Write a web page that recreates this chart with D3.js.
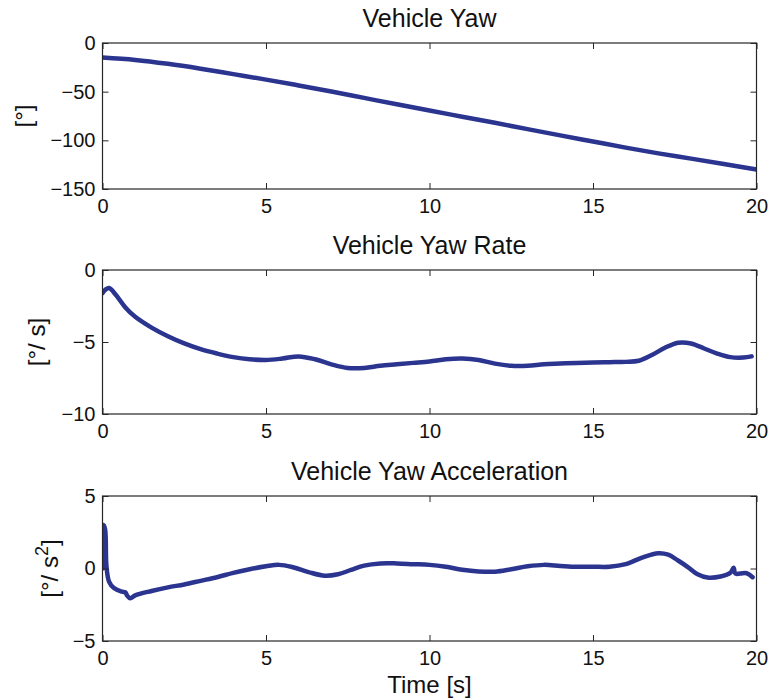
<!DOCTYPE html>
<html>
<head>
<meta charset="utf-8">
<script src="https://cdn.jsdelivr.net/npm/d3@7"></script>
<style>
  html, body { margin: 0; padding: 0; background: #fff; }
  svg { display: block; font-family: "Liberation Sans", Arial, Helvetica, sans-serif; }
</style>
</head>
<body>
<svg id="chart" width="770" height="700"></svg>
<script>
// Time axis (seconds)
const xTicks = [0, 5, 10, 15, 20];

// Vehicle yaw [deg]
const yawTime  = [0, 1, 2, 3, 4, 5, 6, 7, 8, 9, 10, 11, 12, 13, 14, 15, 16, 17, 18, 19, 20];
const yawValue = [-15, -17.4, -21.4, -26.4, -32, -37.6, -43.6, -49.8, -56.4, -63, -69.4, -75.7,
                  -82, -88.5, -94.9, -101.2, -107.5, -113.4, -118.8, -124.3, -130];
const yawTicks = [0, -50, -100, -150];

// Vehicle yaw rate [deg/s]
const rateTime  = [0.0, 0.1, 0.2, 0.4, 0.7, 1.0, 1.5, 2.0, 2.5, 3.0, 3.5, 4.0, 4.5, 5.0, 5.5,
                   6.0, 6.5, 7.0, 7.5, 8.0, 8.5, 9.0, 9.5, 10.0, 10.5, 11.0, 11.5, 12.0, 12.5,
                   13.0, 13.5, 14.0, 14.5, 15.0, 15.5, 16.0, 16.4, 16.8, 17.2, 17.6, 18.0,
                   18.4, 18.8, 19.2, 19.6, 19.85];
const rateValue = [-1.6, -1.35, -1.25, -1.7, -2.6, -3.25, -4.0, -4.6, -5.1, -5.5, -5.8, -6.05,
                   -6.2, -6.25, -6.15, -6.0, -6.2, -6.55, -6.8, -6.8, -6.65, -6.55, -6.45,
                   -6.35, -6.2, -6.15, -6.25, -6.5, -6.65, -6.65, -6.55, -6.5, -6.45, -6.42,
                   -6.4, -6.38, -6.3, -5.9, -5.4, -5.05, -5.1, -5.45, -5.8, -6.05, -6.08, -6.0];
const rateTicks = [0, -5, -10];

// Vehicle yaw acceleration [deg/s^2]
const accTime  = [0.0, 0.03, 0.08, 0.12, 0.2, 0.35, 0.6, 0.7, 0.75, 0.85, 1.0, 1.5, 2.0, 2.5,
                  3.0, 3.5, 4.0, 4.5, 5.0, 5.4, 5.8, 6.3, 6.8, 7.2, 7.6, 8.0, 8.5, 9.0, 9.5,
                  10.0, 10.5, 11.0, 11.5, 12.0, 12.5, 13.0, 13.5, 14.0, 14.5, 15.0, 15.5,
                  16.0, 16.5, 17.0, 17.3, 17.6, 17.9, 18.2, 18.5, 18.9, 19.2, 19.3, 19.35,
                  19.5, 19.7, 19.88];
const accValue = [0.0, 3.0, 2.7, 0.2, -0.9, -1.35, -1.6, -1.65, -1.85, -2.05, -1.85, -1.55,
                  -1.3, -1.1, -0.85, -0.6, -0.3, -0.05, 0.15, 0.25, 0.1, -0.25, -0.5, -0.4,
                  -0.1, 0.2, 0.35, 0.35, 0.3, 0.25, 0.12, -0.08, -0.2, -0.22, -0.05, 0.15,
                  0.25, 0.18, 0.12, 0.12, 0.12, 0.3, 0.75, 1.05, 0.95, 0.55, 0.1, -0.4, -0.62,
                  -0.55, -0.3, 0.05, -0.35, -0.35, -0.33, -0.6];
const accTicks = [5, 0, -5];

const svg = d3.select("#chart");
const left = 102.5, right = 756.5;
const lineColor = "#2b3590";
const axisColor = "#262626";
const fmt = d3.format("d");

const panels = [
  { title: "Vehicle Yaw", top: 43, bottom: 189, domain: [-150, 0], ticks: yawTicks,
    t: yawTime, v: yawValue, label: ["[°]"], labelX: 32 },
  { title: "Vehicle Yaw Rate", top: 270, bottom: 414, domain: [-10, 0], ticks: rateTicks,
    t: rateTime, v: rateValue, label: ["[°/ s]"], labelX: 45 },
  { title: "Vehicle Yaw Acceleration", top: 496, bottom: 641, domain: [-5, 5], ticks: accTicks,
    t: accTime, v: accValue, label: ["[°/ s", "2", "]"], labelX: 58 }
];

panels.forEach((p, i) => {
  const x = d3.scaleLinear().domain([0, 20]).range([left, right]);
  const y = d3.scaleLinear().domain(p.domain).range([p.bottom, p.top]);
  const g = svg.append("g");

  const clipId = "clip" + i;
  svg.append("clipPath").attr("id", clipId)
    .append("rect").attr("x", left).attr("y", p.top)
    .attr("width", right - left).attr("height", p.bottom - p.top);

  // data line
  const pts = p.t.map((t, k) => [t, p.v[k]]);
  g.append("path")
    .datum(pts)
    .attr("clip-path", `url(#${clipId})`)
    .attr("fill", "none")
    .attr("stroke", lineColor)
    .attr("stroke-width", 4.5)
    .attr("stroke-linejoin", "round")
    .attr("stroke-linecap", "round")
    .attr("d", d3.line().x(d => x(d[0])).y(d => y(d[1])).curve(d3.curveCatmullRom.alpha(0.5)));

  // axes with inward ticks on all four sides
  const tickLen = 6;
  const style = sel => {
    sel.select(".domain").remove();
    sel.selectAll(".tick line").attr("stroke", axisColor).attr("stroke-width", 1);
    sel.selectAll(".tick text").attr("fill", "#111").style("font-size", "20px")
      .style("font-family", '"Liberation Sans", Arial, sans-serif');
  };

  g.append("g").attr("transform", `translate(0,${p.bottom})`)
    .call(d3.axisBottom(x).tickValues(xTicks).tickFormat(fmt).tickSizeInner(-tickLen).tickPadding(10))
    .call(style)
    .call(s => s.selectAll(".tick text").attr("dy", "0.71em").attr("y", 10));

  g.append("g").attr("transform", `translate(0,${p.top})`)
    .call(d3.axisTop(x).tickValues(xTicks).tickFormat("").tickSizeInner(-tickLen))
    .call(style);

  g.append("g").attr("transform", `translate(${left},0)`)
    .call(d3.axisLeft(y).tickValues(p.ticks).tickFormat(fmt).tickSizeInner(-tickLen).tickPadding(7))
    .call(style);

  g.append("g").attr("transform", `translate(${right},0)`)
    .call(d3.axisRight(y).tickValues(p.ticks).tickFormat("").tickSizeInner(-tickLen))
    .call(style);

  // box
  g.append("rect")
    .attr("x", left).attr("y", p.top)
    .attr("width", right - left).attr("height", p.bottom - p.top)
    .attr("fill", "none").attr("stroke", axisColor).attr("stroke-width", 1.2);

  // title
  g.append("text")
    .attr("x", (left + right) / 2).attr("y", p.top - 16)
    .attr("text-anchor", "middle")
    .attr("fill", "#111")
    .style("font-size", "25px")
    .text(p.title);

  // y label
  const cy = (p.top + p.bottom) / 2;
  const lab = g.append("text")
    .attr("transform", `translate(${p.labelX},${cy}) rotate(-90)`)
    .attr("text-anchor", "middle")
    .attr("fill", "#111")
    .style("font-size", "24px");
  lab.append("tspan").text(p.label[0]);
  if (p.label.length > 1) {
    lab.append("tspan").attr("dy", -10).style("font-size", "18px").text(p.label[1]);
    lab.append("tspan").attr("dy", 10).text(p.label[2]);
  }
});

// shared x label
svg.append("text")
  .attr("x", (left + right) / 2).attr("y", 693)
  .attr("text-anchor", "middle")
  .attr("fill", "#111")
  .style("font-size", "24px")
  .text("Time [s]");
</script>
</body>
</html>
